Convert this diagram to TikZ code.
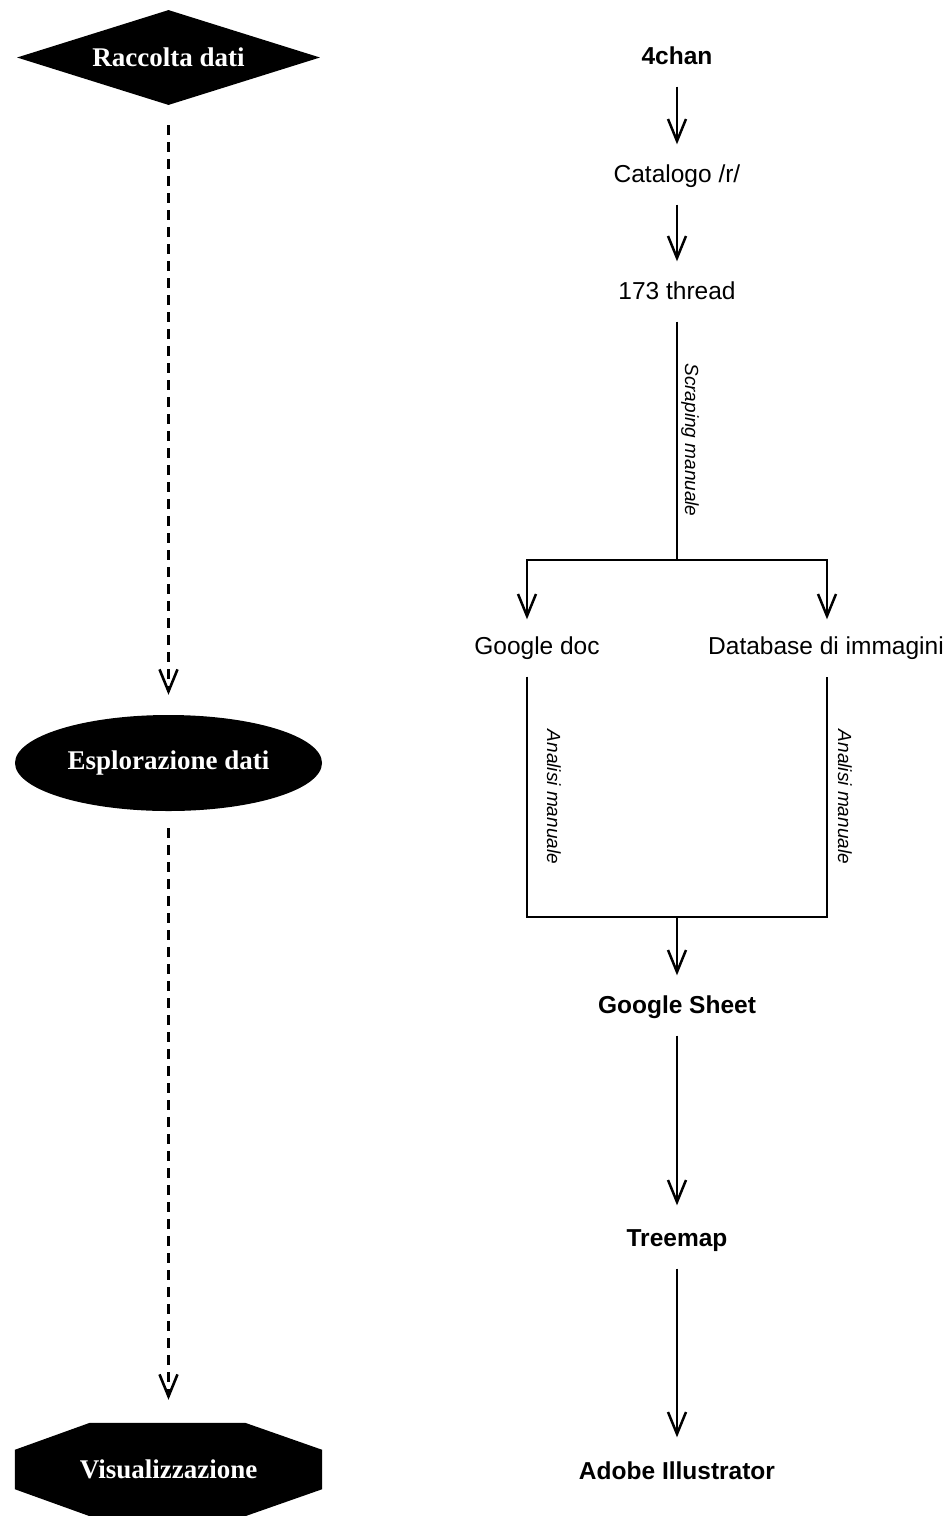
\documentclass[tikz,border=0pt]{standalone}
\usepackage{fontspec}
\setmainfont{Liberation Sans}
\newfontfamily\serifbold{Liberation Serif}
\usetikzlibrary{arrows.meta,shapes.geometric}
\tikzset{
  lbl/.style={font=\fontsize{24.5}{28}\selectfont, inner xsep=0pt, inner ysep=17pt, text height=18pt, text depth=5pt},
  blbl/.style={lbl, font=\fontsize{24.5}{28}\selectfont\bfseries},
  note/.style={font=\fontsize{19}{22}\selectfont\itshape, inner sep=0pt, rotate=-90},
  flow/.style={line width=2.5pt, -{Straight Barb[length=22pt,width=18pt,line width=2.5pt]}},
  plain/.style={line width=2.5pt},
  dflow/.style={line width=2.6pt, dash pattern=on 10pt off 7pt, -{Straight Barb[length=22pt,width=18pt,line width=2.6pt]}},
  phase/.style={fill=black, text=white, font=\fontsize{27}{30}\selectfont\serifbold\bfseries, inner sep=0pt},
}
\begin{document}
\begin{tikzpicture}[x=1pt,y=1pt]
\useasboundingbox (0,0) rectangle (946,-1516);
% left phases
\node[phase, shape=diamond, aspect=3.2, minimum width=303pt, minimum height=95pt] (rac) at (168.5,-57.5) {Raccolta dati};
\node[phase, shape=ellipse, minimum width=307pt, minimum height=96pt] (esp) at (168.5,-763) {Esplorazione dati};
\node[inner sep=0pt, minimum width=307pt, minimum height=93pt] (visbox) at (168.5,-1469.5) {};
\fill (visbox.north west) ++(75,0) -- ([xshift=-77pt]visbox.north east) -- ([yshift=-27pt]visbox.north east)
  -- ([yshift=27pt]visbox.south east) -- ([xshift=-77pt]visbox.south east) -- ([xshift=75pt]visbox.south west)
  -- ([yshift=27pt]visbox.south west) -- ([yshift=-27pt]visbox.north west) -- cycle;
\node[phase, fill=none] (vis) at (visbox.center) {Visualizzazione};
\draw[dflow, shorten <=20pt, shorten >=20pt] (rac.south) -- (esp.north);
\draw[dflow, shorten <=17pt, shorten >=23pt] (esp.south) -- (visbox.north);
% right flow
\node[blbl] (chan) at (677,-58) {4chan};
\node[lbl] (cat) at (677,-176) {Catalogo /r/};
\node[lbl] (thr) at (677,-293) {173 thread};
\node[lbl] (gdoc) at (537,-648) {Google doc};
\node[lbl] (db) at (826,-648) {Database di immagini};
\node[blbl] (gs) at (677,-1007) {Google Sheet};
\node[blbl] (tm) at (677,-1240) {Treemap};
\node[blbl] (ai) at (677,-1473) {Adobe Illustrator};
\coordinate (jm) at (677,-560);
\coordinate (jl) at (527,-560);
\coordinate (jr) at (827,-560);
\coordinate (bl) at (527,-917);
\coordinate (br) at (827,-917);
\coordinate (bm) at (677,-917);
\draw[flow, shorten >=3pt] (chan) -- (cat);
\draw[flow, shorten >=3pt] (cat) -- (thr);
\draw[plain] (thr.south) -- (jm);
\draw[plain, line cap=rect] (jl) -- (jr);
\draw[flow] (jl) -- (gdoc.north -| jl);
\draw[flow] (jr) -- (db.north -| jr);
\draw[plain, line join=miter] (gdoc.south -| bl) -- (bl) -- (br) -- (db.south -| br);
\draw[flow, shorten >=3pt] (bm) -- (gs.north);
\draw[flow, shorten >=6pt] (gs) -- (tm);
\draw[flow, shorten >=7pt] (tm) -- (ai);
\node[note] (n1) at (690,-440) {Scraping manuale};
\node[note] (n2) at (554,-797) {Analisi manuale};
\node[note] (n3) at (845,-797) {Analisi manuale};
\end{tikzpicture}
\end{document}
